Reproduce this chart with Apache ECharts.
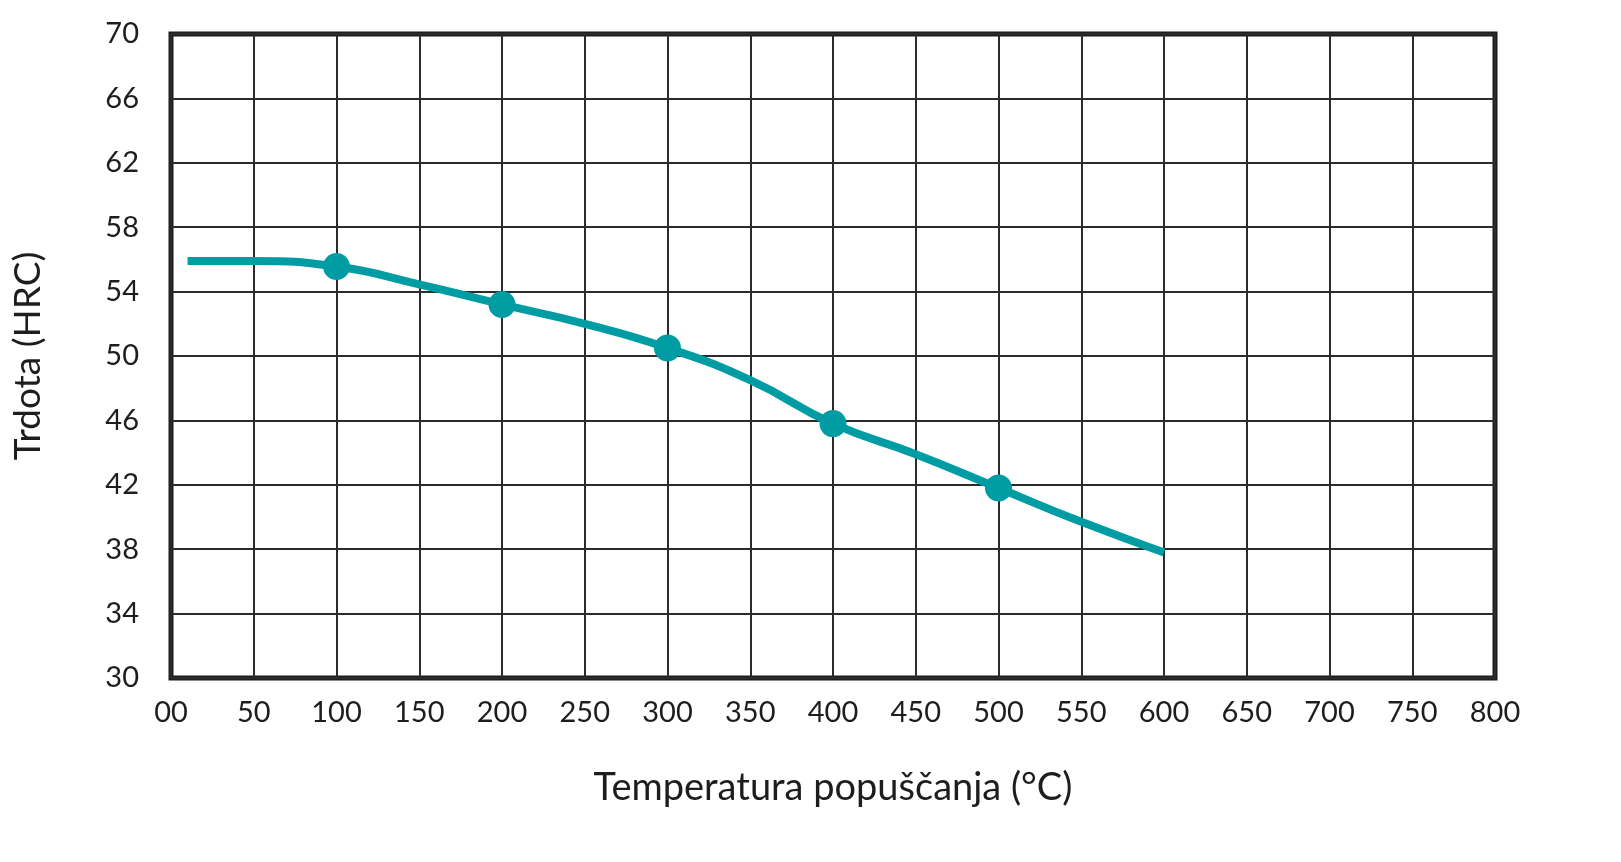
<!DOCTYPE html>
<html lang="sl">
    <head>
        <meta charset="UTF-8">
        <title>Trdota po popuščanju</title>
        <script src="https://cdn.jsdelivr.net/npm/echarts@6/dist/echarts.min.js"></script>
        <style>
            html, body { margin: 0; padding: 0; background: #fff; }
            #chart { width: 1621px; height: 862px; }
        </style>
    </head>
    <body>
        <div id="chart"></div>
        <script>
            // temperatura popuščanja (°C) in trdota (HRC), odčitano z diagrama
            var curveTemp = [10, 50, 100, 150, 200, 250, 300, 350, 400, 450, 500, 550, 600];
            var curveHrc = [55.9, 55.9, 55.56, 54.45, 53.2, 52.0, 50.5, 48.5, 45.8, 43.9, 41.8, 39.7, 37.8];

            // merilne točke
            var pointTemp = [100, 200, 300, 400, 500];
            var pointHrc = [55.56, 53.2, 50.5, 45.8, 41.8];

            var fontFamily = 'Lato, "Open Sans", sans-serif';
            var ink = '#1d1d1b';
            var teal = '#009ca3';

            function pairs(xs, ys) {
                return xs.map(function (x, i) { return [x, ys[i]]; });
            }

            var chart = echarts.init(document.getElementById('chart'), null, { renderer: 'canvas' });

            chart.setOption({
                animation: false,
                grid: {
                    left: 171,
                    right: 126,
                    top: 34,
                    bottom: 184,
                    show: true,
                    borderColor: ink,
                    borderWidth: 5,
                    backgroundColor: '#fff'
                },
                xAxis: {
                    type: 'value',
                    min: 0,
                    max: 800,
                    interval: 50,
                    name: 'Temperatura popuščanja (°C)',
                    nameLocation: 'middle',
                    nameGap: 91,
                    nameTextStyle: { fontFamily: fontFamily, fontSize: 38, color: ink },
                    axisLine: { show: false },
                    axisTick: { show: false },
                    axisLabel: {
                        margin: 20,
                        fontFamily: fontFamily,
                        fontSize: 29,
                        color: ink,
                        formatter: function (v) { return v === 0 ? '00' : String(v); }
                    },
                    splitLine: { show: true, lineStyle: { color: '#2b2b2b', width: 2 } }
                },
                yAxis: {
                    type: 'value',
                    min: 30,
                    max: 70,
                    interval: 4,
                    name: 'Trdota (HRC)',
                    nameLocation: 'middle',
                    nameGap: 124,
                    nameTextStyle: { fontFamily: fontFamily, fontSize: 37, color: ink },
                    axisLine: { show: false },
                    axisTick: { show: false },
                    axisLabel: {
                        margin: 32,
                        fontFamily: fontFamily,
                        fontSize: 29,
                        color: ink
                    },
                    splitLine: { show: true, lineStyle: { color: '#2b2b2b', width: 2 } }
                },
                series: [
                    {
                        type: 'line',
                        data: pairs(curveTemp, curveHrc),
                        smooth: 0.5,
                        showSymbol: false,
                        lineStyle: { color: teal, width: 8 },
                        z: 3
                    },
                    {
                        type: 'scatter',
                        data: pairs(pointTemp, pointHrc),
                        symbol: 'circle',
                        symbolSize: 27,
                        itemStyle: { color: teal, opacity: 1 },
                        z: 4
                    }
                ]
            });
        </script>
    </body>
</html>
